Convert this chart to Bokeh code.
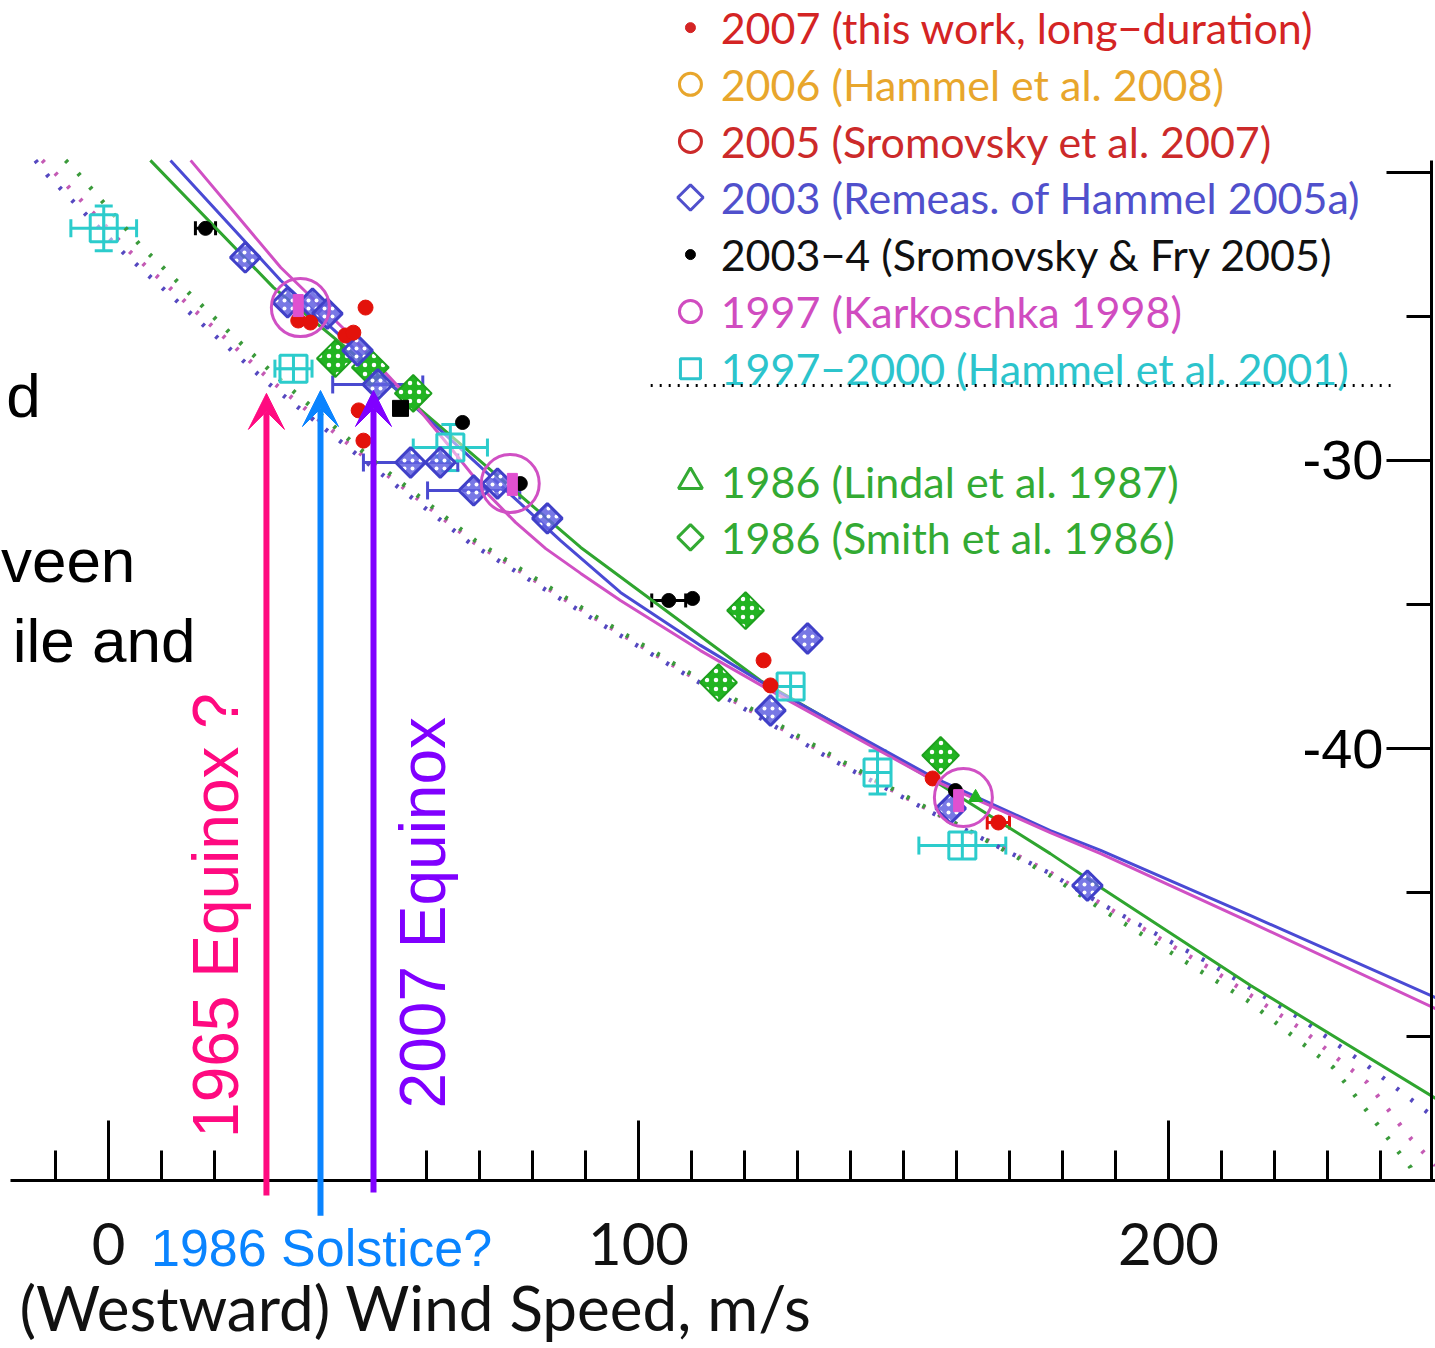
import numpy as np
from bokeh.plotting import figure
from bokeh.models import (Range1d, LinearAxis, FixedTicker, Arrow, VeeHead, Whisker,
                          TeeHead, ColumnDataSource)
from bokeh.core.properties import value
from bokeh.embed import file_html
from bokeh.resources import INLINE

# ---------------- data (x: westward wind speed m/s, y: latitude deg) ----------------
# solid model profiles
green_fit_x = [7.9, 31.1, 57.5, 74.0, 89.1, 123.0, 155.7, 177.7, 187.2, 215.5, 250.4]
green_fit_y = [-19.58, -23.99, -28.02, -30.63, -33.02, -37.64, -41.11, -43.65, -44.83, -48.23, -52.15]
blue_fit_x = [11.7, 32.5, 45.7, 57.5, 68.3, 77.7, 85.3, 96.6, 111.7, 124.9, 155.7, 177.7, 187.2, 215.5, 250.4]
blue_fit_y = [-19.58, -23.75, -26.01, -28.09, -29.90, -31.49, -32.78, -34.58, -36.42, -37.88, -41.01, -42.85, -43.54, -45.80, -48.65]
mag_fit_x = [15.5, 32.5, 45.7, 57.5, 64.5, 71.5, 76.8, 82.5, 89.1, 96.6, 111.7, 124.9, 155.7, 177.7, 187.2, 215.5, 250.4]
mag_fit_y = [-19.58, -23.30, -25.66, -27.99, -29.55, -31.15, -32.15, -33.06, -33.92, -34.86, -36.60, -37.99, -41.11, -42.92, -43.65, -46.04, -49.03]

# dotted model profiles
purple_dot_x = [-13.8, -11.5, 2.8, 21.1, 30.2, 49.4, 68.3, 92.8, 109.8, 136.8, 155.7, 177.7, 187.2, 207.9, 224.9, 237.5, 250.4]
purple_dot_y = [-19.58, -20.10, -22.78, -25.83, -27.33, -30.17, -32.88, -35.66, -37.53, -40.42, -42.26, -44.34, -45.38, -47.47, -49.38, -51.01, -52.85]
pink_dot_x = [-12.5, -10.0, 3.8, 22.1, 30.6, 49.8, 68.7, 92.8, 109.8, 136.8, 155.7, 177.7, 187.2, 207.9, 224.9, 237.5, 245.7, 250.4]
pink_dot_y = [-19.58, -20.03, -22.71, -25.76, -27.22, -30.10, -32.81, -35.59, -37.47, -40.35, -42.22, -44.31, -45.38, -47.64, -49.72, -51.60, -53.54, -54.48]
green_dot_x = [-8.1, -6.2, 6.0, 23.4, 31.5, 50.4, 69.2, 92.8, 109.8, 136.8, 155.7, 177.7, 187.2, 214.9, 231.1, 245.7, 246.8]
green_dot_y = [-19.58, -19.93, -22.53, -25.66, -27.05, -30.07, -32.78, -35.52, -37.40, -40.28, -42.19, -44.41, -45.56, -48.75, -51.08, -54.55, -55.0]

# 2007 (this work)
red_x = [35.8, 38.1, 48.5, 44.7, 46.2, 47.2, 48.1, 123.6, 124.9, 155.5, 167.9]
red_y = [-25.14, -25.21, -24.69, -25.66, -25.56, -28.26, -29.31, -36.94, -37.81, -41.04, -42.57]
red_xerr = [0, 0, 0, 0, 0, 0, 0, 0, 0, 0, 2.1]

# 2003 remeasured Hammel 2005a (blue diamonds)
bd_x = [25.8, 33.8, 38.5, 41.3, 47.0, 50.8, 57.0, 62.6, 68.9, 73.4, 82.8, 131.9, 124.9, 158.9, 184.7]
bd_y = [-22.95, -24.51, -24.55, -24.90, -26.18, -27.36, -30.07, -30.07, -31.04, -30.80, -32.01, -36.18, -38.68, -42.08, -44.76]
bd_xerr = [0, 0, 0, 0, 0, 8.5, 8.9, 0, 8.7, 0, 0, 0, 0, 0, 0]

# 2003-4 Sromovsky & Fry 2005 (black dots)
bk_x = [18.3, 66.8, 77.7, 105.7, 110.2, 159.8]
bk_y = [-21.94, -28.68, -30.80, -34.86, -34.79, -41.46]
bk_xerr = [1.9, 0, 0, 3.2, 0, 0]
bk_sq_x = [55.1]
bk_sq_y = [-28.19]

# 1997 Karkoschka 1998 (magenta circles + bars)
kk_x = [36.2, 75.8, 161.3]
kk_y = [-24.69, -30.80, -41.70]
kk_bar_x = [35.8, 76.2, 160.4]
kk_bar_y = [-24.62, -30.83, -41.81]

# 1997-2000 Hammel et al. 2001 (cyan squares)
cy_x = [-0.9, 34.9, 64.5, 128.7, 145.1, 161.1]
cy_y = [-21.94, -26.81, -29.55, -37.85, -40.83, -43.37]
cy_xerr = [6.2, 3.5, 7.0, 0, 0, 8.2]
cy_yerr = [0.78, 0, 0.8, 0, 0.75, 0]

# 1986 Smith et al. 1986 (green diamonds) and Lindal et al. 1987 (green triangle)
gd_x = [42.8, 49.4, 57.5, 120.2, 115.1, 157.0]
gd_y = [-26.46, -26.77, -27.67, -35.21, -37.71, -40.24]
gt_x = [163.6]
gt_y = [-41.70]

# legend
leg_labels = ["2007 (this work, long\u2212duration)", "2006 (Hammel et al. 2008)",
              "2005 (Sromovsky et al. 2007)", "2003 (Remeas. of Hammel 2005a)",
              "2003\u22124 (Sromovsky & Fry 2005)", "1997 (Karkoschka 1998)",
              "1997\u22122000 (Hammel et al. 2001)", "1986 (Lindal et al. 1987)",
              "1986 (Smith et al. 1986)"]
leg_colors = ["#d42424", "#e8a62c", "#cc2a2a", "#5050cc", "#111111", "#d04cc0",
              "#2cc4cc", "#33aa33", "#33aa33"]
leg_y = [-14.97, -16.94, -18.92, -20.87, -22.85, -24.83, -26.81, -30.73, -32.67]
leg_marker_x = 109.8
leg_text_x = 115.5
leg_sep_x = [102.3, 241.9]
leg_sep_y = [-27.40, -27.40]

# annotations
arrow_x = [29.8, 40.0, 50.0]
arrow_y0 = [-55.52, -56.22, -55.42]
arrow_y1 = [-27.67, -27.57, -27.57]
arrow_colors = ["#ff0a80", "#0a84ff", "#8000ff"]
vert_labels = ["1965 Equinox ?", "2007 Equinox"]
vert_x = [20.2, 59.4]
vert_y = [-45.8, -45.7]
vert_colors = ["#ff0a80", "#8000ff"]
sol_label = ["1986 Solstice?"]
sol_x = [40.2]
sol_y = [-57.35]
side_text = ["d", "veen", "ile and"]
side_x = [-12.8, -20.3, 16.4]
side_y = [-27.74, -33.47, -36.25]
side_align = ["right", "left", "right"]
xtitle = ["(Westward) Wind Speed, m/s"]
xtitle_x = [-16.8]
xtitle_y = [-59.40]

x_ticks = [0, 100, 200]
x_minor = [v for v in range(-10, 250, 10)]
y_ticks = [-20, -30, -40]
y_minor = [-25, -35, -45, -50]
y_tick_labels = {-20: "", -30: "-30", -40: "-40"}

# ---------------- figure ----------------
p = figure(width=1435, height=1348, output_backend="svg", toolbar_location=None,
           x_range=Range1d(-20.377, 250.377), y_range=Range1d(-60.833, -14.028),
           x_axis_location=None, y_axis_location=None,
           min_border=0, min_border_left=0, min_border_right=0,
           min_border_top=0, min_border_bottom=0)
p.outline_line_color = None
p.grid.visible = False
p.background_fill_color = "white"

xaxis = LinearAxis(fixed_location=-55, bounds=(-18.49, 250.4),
                   ticker=FixedTicker(ticks=x_ticks, minor_ticks=x_minor))
xaxis.major_tick_in = 60
xaxis.major_tick_out = 0
xaxis.minor_tick_in = 30
xaxis.minor_tick_out = 0
xaxis.axis_line_width = 3
xaxis.major_tick_line_width = 3
xaxis.minor_tick_line_width = 3
xaxis.major_label_standoff = 42
xaxis.major_label_text_font = "Lato"
xaxis.major_label_text_font_size = "58px"
xaxis.major_label_text_color = "#111111"
p.add_layout(xaxis, "below")

yaxis = LinearAxis(fixed_location=249.62, bounds=(-55, -19.58),
                   ticker=FixedTicker(ticks=y_ticks, minor_ticks=y_minor))
yaxis.major_label_overrides = y_tick_labels
yaxis.major_tick_out = 45
yaxis.major_tick_in = 0
yaxis.minor_tick_out = 25
yaxis.minor_tick_in = 0
yaxis.axis_line_width = 3
yaxis.major_tick_line_width = 3
yaxis.minor_tick_line_width = 3
yaxis.major_label_standoff = 3
yaxis.major_label_text_font = "Liberation Sans"
yaxis.major_label_text_font_size = "56px"
yaxis.major_label_text_color = "black"
p.add_layout(yaxis, "left")

# curves
p.line(purple_dot_x, purple_dot_y, line_color="#5548c0", line_width=4.5, line_dash="3 15")
p.line(pink_dot_x, pink_dot_y, line_color="#c45ab4", line_width=4.5, line_dash="3 15")
p.line(green_dot_x, green_dot_y, line_color="#3a9a3a", line_width=4.5, line_dash="3 15")
p.line(green_fit_x, green_fit_y, line_color="#2fa52f", line_width=3)
p.line(blue_fit_x, blue_fit_y, line_color="#4a4ad4", line_width=3)
p.line(mag_fit_x, mag_fit_y, line_color="#d050c4", line_width=3)


def xwhisker(xs, ys, errs, color, head=18):
    b, lo, up = [], [], []
    for x, y, e in zip(xs, ys, errs):
        if e > 0:
            b.append(y); lo.append(x - e); up.append(x + e)
    src = ColumnDataSource(dict(base=b, lower=lo, upper=up))
    w = Whisker(source=src, base="base", lower="lower", upper="upper", dimension="width",
                line_color=color, line_width=3,
                lower_head=TeeHead(size=head, line_color=color, line_width=3),
                upper_head=TeeHead(size=head, line_color=color, line_width=3))
    p.add_layout(w)


def ywhisker(xs, ys, errs, color, head=18):
    b, lo, up = [], [], []
    for x, y, e in zip(xs, ys, errs):
        if e > 0:
            b.append(x); lo.append(y - e); up.append(y + e)
    src = ColumnDataSource(dict(base=b, lower=lo, upper=up))
    w = Whisker(source=src, base="base", lower="lower", upper="upper", dimension="height",
                line_color=color, line_width=3,
                lower_head=TeeHead(size=head, line_color=color, line_width=3),
                upper_head=TeeHead(size=head, line_color=color, line_width=3))
    p.add_layout(w)


# cyan squares
xwhisker(cy_x, cy_y, cy_xerr, "#2ccccc")
ywhisker(cy_x, cy_y, cy_yerr, "#2ccccc")
p.scatter(cy_x, cy_y, marker="square_cross", size=27, line_color="#2ccccc", line_width=3,
          fill_color="white", fill_alpha=0.5)

# green diamonds (Smith) and triangle (Lindal)
p.scatter(gd_x, gd_y, marker="square", angle=np.pi / 4, size=26, fill_color="#22b422",
          line_color="#1ea01e", line_width=2, hatch_pattern="dot", hatch_color="white",
          hatch_scale=9, hatch_weight=2)
p.scatter(gt_x, gt_y, marker="triangle", size=14, fill_color="#22b422", line_color="#22b422")

# blue diamonds
xwhisker(bd_x, bd_y, bd_xerr, "#4a4ad0")
p.scatter(bd_x, bd_y, marker="square", angle=np.pi / 4, size=21, fill_color="#6060e0",
          fill_alpha=0.85, line_color="#4040c8", line_width=3, hatch_pattern="dot",
          hatch_color="white", hatch_scale=8, hatch_weight=1.5)

# black points
xwhisker(bk_x, bk_y, bk_xerr, "black", head=14)
p.scatter(bk_x, bk_y, marker="circle", size=14, fill_color="black", line_color="black")
p.scatter(bk_sq_x, bk_sq_y, marker="square", size=16, fill_color="black", line_color="black")

# red points
xwhisker(red_x, red_y, red_xerr, "#e3120b", head=14)
p.scatter(red_x, red_y, marker="circle", size=15, fill_color="#e3120b", line_color="#e3120b")

# Karkoschka
p.rect(kk_bar_x, kk_bar_y, width=10, height=22, width_units="screen", height_units="screen",
       fill_color="#e050d0", line_color="#e050d0")
p.scatter(kk_x, kk_y, marker="circle", size=58, fill_color=None, line_color="#d050c4", line_width=3)

# legend
lm = [leg_marker_x] * len(leg_y)
p.scatter(lm[0:1], leg_y[0:1], marker="circle", size=10, fill_color=leg_colors[0], line_color=leg_colors[0])
p.scatter(lm[1:3], leg_y[1:3], marker="circle", size=22, fill_color=None, line_color=leg_colors[1:3], line_width=3)
p.scatter(lm[3:4], leg_y[3:4], marker="square", angle=np.pi / 4, size=18, fill_color=None, line_color=leg_colors[3], line_width=3)
p.scatter(lm[4:5], leg_y[4:5], marker="circle", size=10, fill_color="black", line_color="black")
p.scatter(lm[5:6], leg_y[5:6], marker="circle", size=22, fill_color=None, line_color=leg_colors[5], line_width=3)
p.scatter(lm[6:7], leg_y[6:7], marker="square", size=20, fill_color=None, line_color=leg_colors[6], line_width=3)
p.scatter(lm[7:8], leg_y[7:8], marker="triangle", size=24, fill_color=None, line_color=leg_colors[7], line_width=3)
p.scatter(lm[8:9], leg_y[8:9], marker="square", angle=np.pi / 4, size=18, fill_color=None, line_color=leg_colors[8], line_width=3)
p.text([leg_text_x] * len(leg_y), leg_y, text=leg_labels, text_color=leg_colors,
       text_font=value("Lato"), text_font_size="43px", text_baseline="middle", text_align="left")
p.line(leg_sep_x, leg_sep_y, line_color="black", line_width=3, line_dash="2 7")

# slide text fragments
p.text(side_x, side_y, text=side_text, text_color="black", text_font=value("Liberation Sans"),
       text_font_size="62px", text_align=side_align, text_baseline="alphabetic")

# axis title
p.text(xtitle_x, xtitle_y, text=xtitle, text_color="#111111", text_font=value("Lato"),
       text_font_size="62px", text_align="left", text_baseline="middle")

# vertical annotation labels
p.text(vert_x, vert_y, text=vert_labels, text_color=vert_colors, angle=np.pi / 2,
       text_font=value("Liberation Sans"), text_font_size="64px",
       text_align="center", text_baseline="middle")
p.text(sol_x, sol_y, text=sol_label, text_color="#0a84ff", text_font=value("Liberation Sans"),
       text_font_size="52px", text_align="center", text_baseline="middle")

# arrows
for xa, ya0, ya1, ca in zip(arrow_x, arrow_y0, arrow_y1, arrow_colors):
    p.add_layout(Arrow(end=VeeHead(size=36, fill_color=ca, line_color=ca),
                       x_start=xa, y_start=ya0, x_end=xa, y_end=ya1,
                       line_color=ca, line_width=6))

open("out.html", "w").write(file_html(p, INLINE))
